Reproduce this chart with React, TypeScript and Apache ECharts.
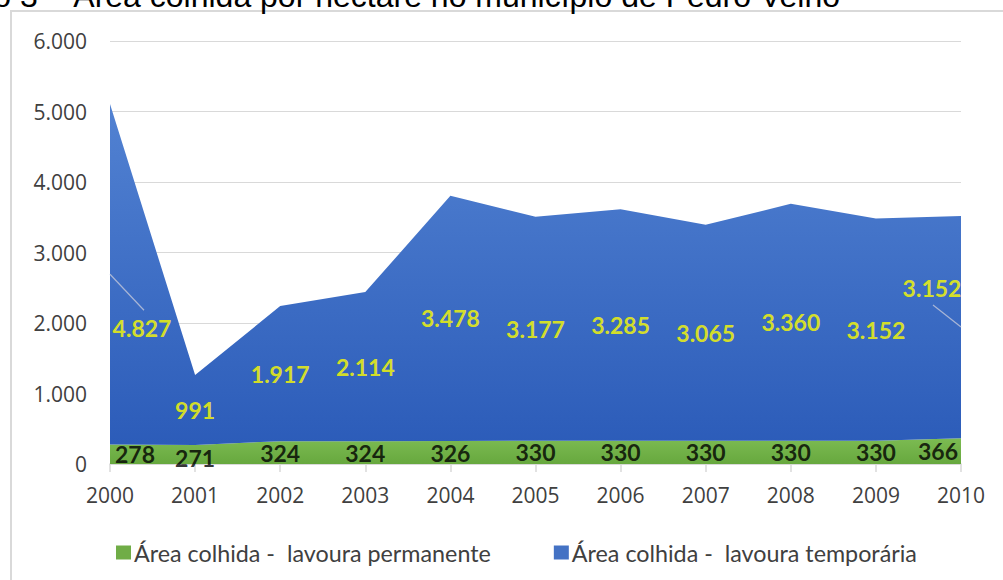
import React, { useEffect, useRef } from "react";
import * as echarts from "echarts";

const years = ["2000", "2001", "2002", "2003", "2004", "2005", "2006", "2007", "2008", "2009", "2010"];
const permanente = [278, 271, 324, 324, 326, 330, 330, 330, 330, 330, 366];
const temporaria = [4827, 991, 1917, 2114, 3478, 3177, 3285, 3065, 3360, 3152, 3152];
const nomePerm = "Área colhida -  lavoura permanente";
const nomeTemp = "Área colhida -  lavoura temporária";
const titulo = "Gráfico 3 – Área colhida por hectare no município de Pedro Velho";

const fmt = (n: number) => String(n).replace(/\B(?=(\d{3})+(?!\d))/g, ".");

export default function App() {
  const ref = useRef<HTMLDivElement>(null);
  useEffect(() => {
    if (!ref.current) return;
    const chart = echarts.init(ref.current, null, { renderer: "svg" });
    const last = years.length - 1;
    const permMid = permanente.map((v) => v / 2);
    const tempMid = temporaria.map((v, i) => permanente[i] + v / 2);
    chart.setOption({
      animation: false,
      grid: { left: 110, right: 42, top: 41, bottom: 116 },
      graphic: [
        {
          id: "frame",
          type: "rect",
          shape: { x: 11, y: 11, width: 1200, height: 800 },
          style: { fill: "none", stroke: "#d9d9d9", lineWidth: 2 },
          silent: true,
        },
        {
          id: "title",
          type: "text",
          x: 840,
          y: 12,
          style: {
            text: titulo,
            fontFamily: "'Liberation Sans', Arial, sans-serif",
            fontSize: 32,
            fill: "#000",
            align: "right",
            verticalAlign: "bottom",
          },
        },
      ],
      legend: {
        left: 111,
        top: 536,
        icon: "rect",
        itemWidth: 15,
        itemHeight: 14,
        itemGap: 63,
        data: [nomePerm, nomeTemp],
        textStyle: { fontFamily: "Lato, sans-serif", fontSize: 23.3, color: "#404040", padding: [0, 0, 0, -2] },
      },
      xAxis: {
        type: "category",
        data: years,
        boundaryGap: false,
        axisLine: { lineStyle: { color: "#d9d9d9", width: 1.5 } },
        axisTick: { show: true, length: 8, lineStyle: { color: "#d9d9d9", width: 1.5 } },
        axisLabel: { fontFamily: "'Open Sans', sans-serif", fontSize: 21, color: "#404040", margin: 20 },
      },
      yAxis: {
        type: "value",
        min: 0,
        max: 6000,
        interval: 1000,
        axisLine: { show: false },
        axisTick: { show: false },
        splitLine: { lineStyle: { color: "#d9d9d9", width: 1.2 } },
        axisLabel: {
          fontFamily: "'Open Sans', sans-serif",
          fontSize: 21,
          color: "#404040",
          margin: 23,
          formatter: (v: number) => fmt(v),
        },
      },
      series: [
        {
          name: nomePerm,
          type: "line",
          stack: "total",
          data: permanente,
          symbol: "none",
          lineStyle: { width: 0 },
          itemStyle: { color: "#70ad47" },
          areaStyle: {
            opacity: 1,
            color: new echarts.graphic.LinearGradient(0, 0, 0, 1, [
              { offset: 0, color: "#7cbb52" },
              { offset: 1, color: "#67a83e" },
            ]),
          },
        },
        {
          name: nomeTemp,
          type: "line",
          stack: "total",
          data: temporaria,
          symbol: "none",
          lineStyle: { width: 0 },
          itemStyle: { color: "#4472c4" },
          areaStyle: {
            opacity: 1,
            color: new echarts.graphic.LinearGradient(0, 0, 0, 1, [
              { offset: 0, color: "#5282d2" },
              { offset: 1, color: "#2c5cb9" },
            ]),
          },
        },
        {
          type: "scatter",
          data: permMid,
          symbolSize: 0,
          silent: true,
          z: 10,
          label: {
            show: true,
            position: "inside",
            fontFamily: "Lato, sans-serif",
            fontWeight: "bold",
            fontSize: 23,
            color: "#000",
            formatter: (p: any) => fmt(permanente[p.dataIndex]),
          },
          labelLayout: (p: any) => {
            if (p.dataIndex === 0) return { dx: 25 };
            if (p.dataIndex === 1) return { dy: 4 };
            if (p.dataIndex === last) return { dx: -23 };
            return {};
          },
        },
        {
          type: "scatter",
          data: tempMid,
          symbolSize: 0,
          silent: true,
          z: 10,
          label: {
            show: true,
            position: "inside",
            fontFamily: "Lato, sans-serif",
            fontWeight: "bold",
            fontSize: 23,
            color: "#ffff00",
            formatter: (p: any) => fmt(temporaria[p.dataIndex]),
          },
          labelLayout: (p: any) => {
            if (p.dataIndex === 0) return { dx: 32, dy: 54 };
            if (p.dataIndex === last) return { dx: -29, dy: -39 };
            return {};
          },
        },
      ],
    });
    const a0 = chart.convertToPixel({ gridIndex: 0 }, [0, tempMid[0]]) as number[];
    const aL = chart.convertToPixel({ gridIndex: 0 }, [last, tempMid[last]]) as number[];
    const leaderStyle = { stroke: "#a9b6d6", lineWidth: 1.2 };
    chart.setOption({
      graphic: [
        {
          id: "leader0",
          type: "line",
          z: 20,
          silent: true,
          shape: { x1: a0[0], y1: a0[1], x2: a0[0] + 34, y2: a0[1] + 36 },
          style: leaderStyle,
        },
        {
          id: "leaderL",
          type: "line",
          z: 20,
          silent: true,
          shape: { x1: aL[0], y1: aL[1], x2: aL[0] - 28, y2: aL[1] - 22 },
          style: leaderStyle,
        },
      ],
    });
    return () => chart.dispose();
  }, []);
  return <div ref={ref} style={{ width: 1003, height: 580, position: "absolute", left: 0, top: 0 }} />;
}
